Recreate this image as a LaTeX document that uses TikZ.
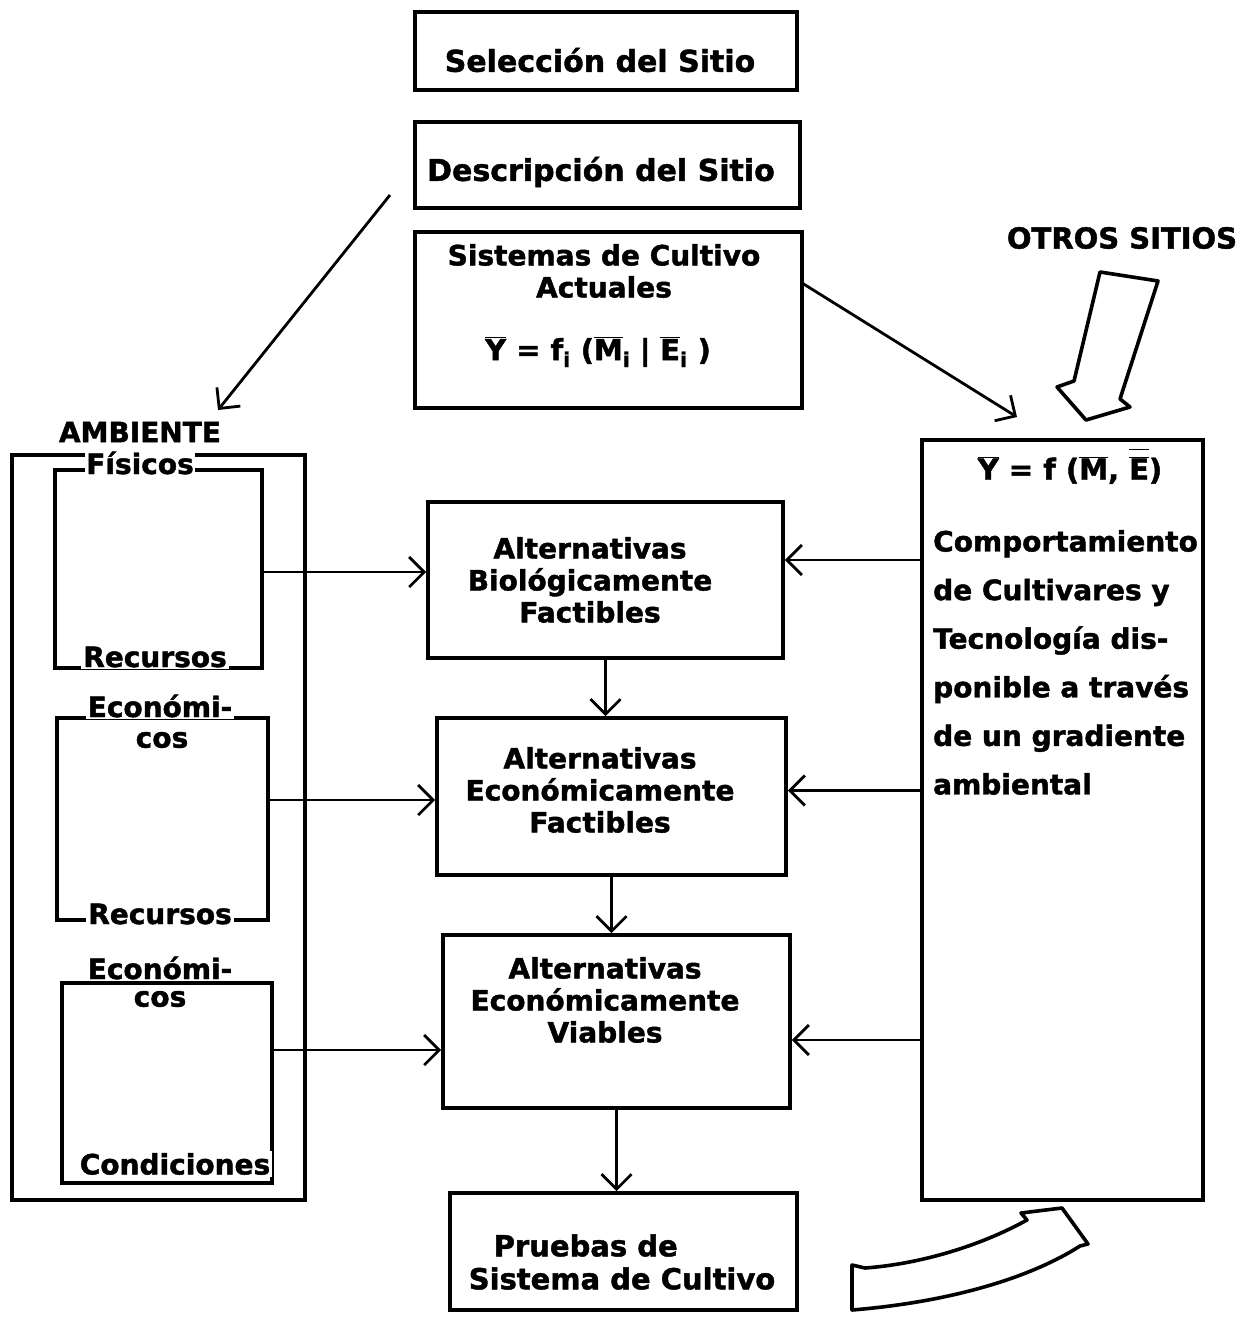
\documentclass[tikz,border=0pt]{standalone}
\usepackage{fontspec}
\setmainfont{DejaVu Sans}[BoldFeatures={FakeBold=1.5}]
\usetikzlibrary{arrows.meta}
\newcommand\ovl[1]{$\overline{\mbox{#1}}$}
\newcommand\dovl[1]{$\overline{\rule{0pt}{1.02em}\overline{\mbox{#1}}}$}
\begin{document}
\begin{tikzpicture}[x=1pt,y=-1pt]
\tikzset{
  box/.style={draw, line width=3.6pt, inner sep=0pt},
  txt/.style={font=\fontsize{28}{32}\selectfont\bfseries, align=center, inner sep=0pt},
  lbl/.style={txt, fill=white, inner sep=2pt},
  conn/.style={line width=2.8pt, -{Straight Barb[length=15pt,width=30pt,line width=2.8pt]}},
  hollow/.style={line width=3.6pt, fill=white, line join=round},
}
\useasboundingbox (0,0) rectangle (1260,1317);

% top boxes
\node[box, minimum width=382, minimum height=78] (sel) at (606,51) {};
\node[txt, font=\fontsize{30}{32}\selectfont\bfseries] (selt) at (600,60) {Selección del Sitio};
\node[box, minimum width=385, minimum height=86] (des) at (607.5,165) {};
\node[txt, font=\fontsize{30}{32}\selectfont\bfseries] (dest) at (601,172) {Descripción del Sitio};
\node[box, minimum width=387, minimum height=176] (sis) at (608.5,320) {};
\node[txt] (sist) at (604,271) {Sistemas de Cultivo\\Actuales};
\node[txt, font=\fontsize{29}{32}\selectfont\bfseries] (form) at (598,352)
  {\ovl{Y} = f\textsubscript{i} (\ovl{M}\textsubscript{i}\,\,|\,\,\ovl{E}\textsubscript{i} )};

% OTROS SITIOS
\node[txt, font=\fontsize{29}{32}\selectfont\bfseries] (otros) at (1122,238) {OTROS SITIOS};
\draw[hollow] (1100,272) -- (1158,281) -- (1120,399) -- (1130,407) -- (1086,420)
  -- (1057,387) -- (1074,381) -- cycle;

% left AMBIENTE box
\node[box, minimum width=293, minimum height=745] (amb) at (158.5,827.5) {};
\node[box, minimum width=207, minimum height=198] (in1) at (158.5,569) {};
\node[box, minimum width=211, minimum height=202] (in2) at (162.5,819) {};
\node[box, minimum width=210, minimum height=200] (in3) at (167,1083) {};
\node[txt] (ambt) at (140,432) {AMBIENTE};
\node[lbl, inner sep=1pt] (fis) at (140,463) {Físicos};
\node[lbl] (rec1) at (155,657) {Recursos};
\node[lbl] (eco1) at (160,706) {Económi-};
\node[txt] (cos1) at (162,740) {cos};
\node[lbl] (rec2) at (160,914) {Recursos};
\node[lbl] (eco2) at (160,968) {Económi-};
\node[txt] (cos2) at (160,999) {cos};
\node[lbl] (cond) at (175,1164) {Condiciones};

% centre boxes
\node[box, minimum width=355, minimum height=156] (bio) at (605.5,580) {};
\node[txt] (biot) at (590,580) {Alternativas\\Biológicamente\\Factibles};
\node[box, minimum width=349, minimum height=157] (ecf) at (611.5,796.5) {};
\node[txt] (ecft) at (600,790) {Alternativas\\Económicamente\\Factibles};
\node[box, minimum width=347, minimum height=173] (ecv) at (616.5,1021.5) {};
\node[txt] (ecvt) at (605,1000) {Alternativas\\Económicamente\\Viables};
\node[box, minimum width=347, minimum height=117] (pru) at (623.5,1251.5) {};
\node[txt, align=left, font=\fontsize{29}{33}\selectfont\bfseries] (prut) at (622,1262)
  {\hspace*{25pt}Pruebas de\\Sistema de Cultivo};

% right box
\node[box, minimum width=281, minimum height=760] (rb) at (1062.5,820) {};
\node[txt, font=\fontsize{29}{32}\selectfont\bfseries] (rbf) at (1070,466)
  {\ovl{Y} = f (\ovl{M}, \dovl{E})};
\node[txt, align=left, anchor=north west, font=\fontsize{28}{48.6}\selectfont\bfseries] (rbt) at (933,530)
  {Comportamiento\\de Cultivares y\\Tecnología dis-\\ponible a través\\de un gradiente\\ambiental};

% curved hollow arrow
\draw[hollow] (852,1265) -- (852,1310) .. controls (950,1302) and (1030,1278) .. (1080,1246)
  -- (1088,1244) -- (1062,1208) -- (1021,1213) -- (1027,1220)
  .. controls (980,1246) and (920,1264) .. (865,1268) -- cycle;

% coordinates
\coordinate (d1) at (390,195);
\coordinate (d2) at (218,410);
\coordinate (s1) at (802,283);
\coordinate (s2) at (1017,417);
\coordinate (bl) at ([yshift=8pt]bio.west);
\coordinate (el) at ([yshift=-3.5pt]ecf.west);
\coordinate (vl) at ([yshift=-28.5pt]ecv.west);
\coordinate (br) at ([yshift=20pt]bio.east);
\coordinate (er) at ([yshift=6pt]ecf.east);
\coordinate (vr) at ([yshift=-18.5pt]ecv.east);

% connectors
\draw[conn] (d1) -- (d2);
\draw[conn] (s1) -- (s2);
\draw[conn] (in1.east |- bl) -- (bl);
\draw[conn] (in2.east |- el) -- (el);
\draw[conn] (in3.east |- vl) -- (vl);
\draw[conn] (rb.west |- br) -- (br);
\draw[conn] (rb.west |- er) -- (er);
\draw[conn] (rb.west |- vr) -- (vr);
\draw[conn] (bio.south) -- (bio.south |- ecf.north);
\draw[conn] (ecf.south) -- (ecf.south |- ecv.north);
\draw[conn] (ecv.south) -- (ecv.south |- pru.north);
\end{tikzpicture}
\end{document}
